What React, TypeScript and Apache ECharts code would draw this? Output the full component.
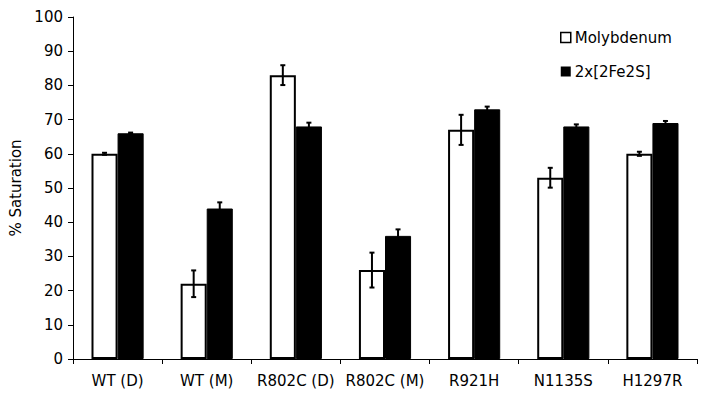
import React, { useEffect, useRef } from "react";
import * as echarts from "echarts";

const categories = ["WT (D)", "WT (M)", "R802C (D)", "R802C (M)", "R921H", "N1135S", "H1297R"];
const molybdenum = [60, 22, 83, 26, 67, 53, 60];
const molybdenumErr = [0.3, 3.9, 2.9, 5.1, 4.4, 2.9, 0.6];
const fe2s = [66, 44, 68, 36, 73, 68, 69];
const fe2sErr = [0.2, 1.8, 1.1, 1.9, 0.8, 0.6, 0.6];
const yTicks = { min: 0, max: 100, interval: 10 };

const GAP = 0.415;

function errorSeries(values: number[], errs: number[], side: number) {
  return {
    type: "custom",
    silent: true,
    z: 10,
    encode: { x: 0, y: 1 },
    data: values.map((v, i) => [i, v, errs[i]]),
    renderItem: (params: any, api: any) => {
      const i = api.value(0);
      const v = api.value(1);
      const e = api.value(2);
      const band = api.size([1, 0])[0];
      const bw = (band * (1 - GAP)) / 2;
      const x = api.coord([i, v])[0] + (side * bw) / 2;
      const top = api.coord([i, v + e])[1];
      const bot = api.coord([i, v - e])[1];
      const cap = 2.5;
      const style = { stroke: "#000", lineWidth: 2 };
      return {
        type: "group",
        children: [
          { type: "line", shape: { x1: x, y1: top, x2: x, y2: bot }, style },
          { type: "line", shape: { x1: x - cap, y1: top, x2: x + cap, y2: top }, style },
          { type: "line", shape: { x1: x - cap, y1: bot, x2: x + cap, y2: bot }, style },
        ],
      };
    },
  };
}

export default function App() {
  const ref = useRef<HTMLDivElement>(null);
  useEffect(() => {
    const chart = echarts.init(ref.current!, null, { renderer: "svg" });
    const font = "'DejaVu Sans', Verdana, sans-serif";
    chart.setOption({
      animation: false,
      backgroundColor: "#fff",
      textStyle: { fontFamily: font },
      grid: { left: 73, right: 15, top: 17, bottom: 45 },
      legend: {
        orient: "vertical",
        left: 555,
        top: 25,
        icon: "rect",
        itemWidth: 10,
        itemHeight: 10,
        itemGap: 19,
        data: [
          { name: "Molybdenum", itemStyle: { color: "#fff", borderColor: "#000", borderWidth: 1.5 } },
          { name: "2x[2Fe2S]", itemStyle: { color: "#000", borderColor: "#000", borderWidth: 0 } },
        ],
        textStyle: { fontFamily: font, fontSize: 15, color: "#000", padding: [0, 0, 0, -1] },
      },
      xAxis: {
        type: "category",
        data: categories,
        axisLine: { lineStyle: { color: "#000", width: 1 } },
        axisTick: { show: true, length: 5, lineStyle: { color: "#000" } },
        axisLabel: { color: "#000", fontSize: 15, margin: 14, fontFamily: font, interval: 0 },
      },
      yAxis: {
        type: "value",
        min: yTicks.min,
        max: yTicks.max,
        interval: yTicks.interval,
        name: "% Saturation",
        nameLocation: "middle",
        nameGap: 48,
        nameTextStyle: { color: "#000", fontSize: 15, fontFamily: font },
        splitLine: { show: false },
        axisLine: { show: true, lineStyle: { color: "#000", width: 1 } },
        axisTick: { show: true, length: 5, lineStyle: { color: "#000" } },
        axisLabel: { color: "#000", fontSize: 15, margin: 10, fontFamily: font },
      },
      series: [
        {
          name: "Molybdenum",
          type: "bar",
          data: molybdenum,
          barGap: "0%",
          barCategoryGap: GAP * 100 + "%",
          itemStyle: { color: "#fff", borderColor: "#000", borderWidth: 2 },
        },
        {
          name: "2x[2Fe2S]",
          type: "bar",
          data: fe2s,
          itemStyle: { color: "#000", borderColor: "#000", borderWidth: 1 },
        },
        errorSeries(molybdenum, molybdenumErr, -1),
        errorSeries(fe2s, fe2sErr, 1),
      ],
    });
    return () => chart.dispose();
  }, []);
  return (
    <div
      ref={ref}
      style={{ position: "fixed", left: 0, top: 0, width: 712, height: 404 }}
    />
  );
}
